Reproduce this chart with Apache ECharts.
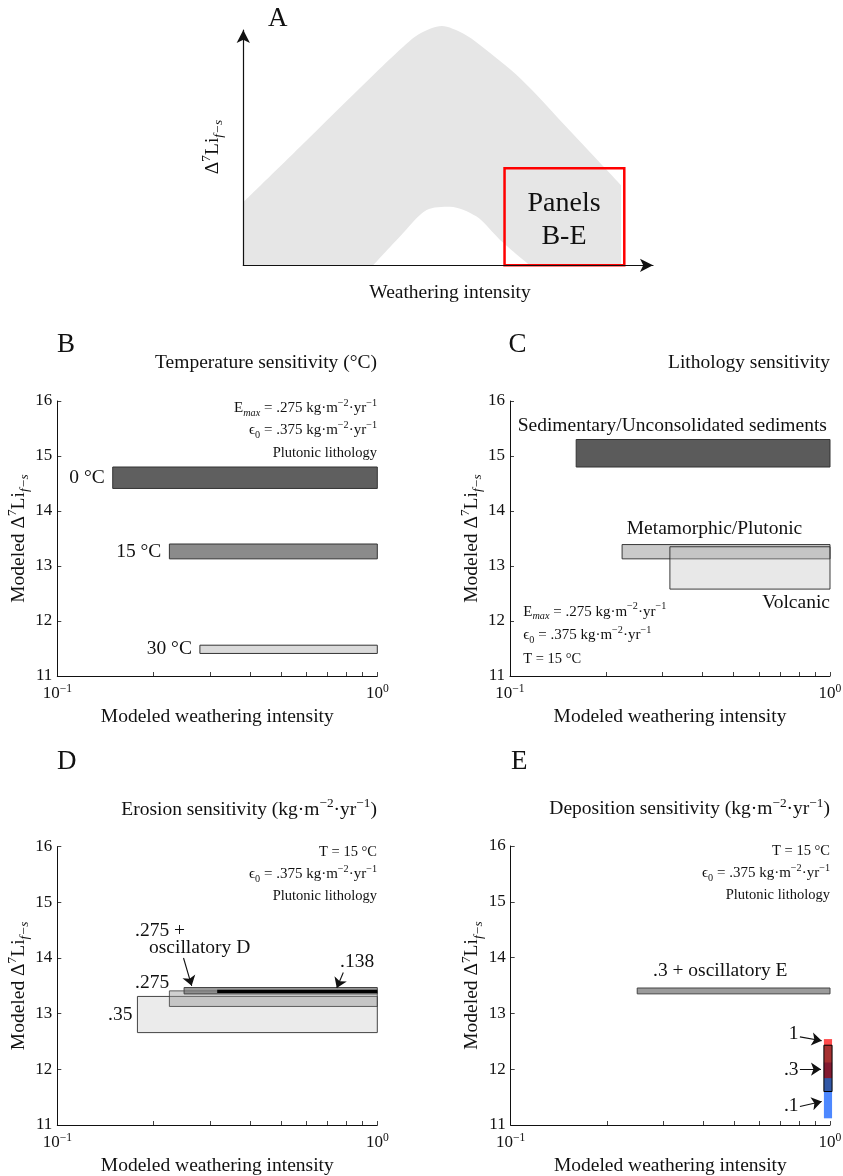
<!DOCTYPE html>
<html>
<head>
<meta charset="utf-8">
<script src="https://cdn.jsdelivr.net/npm/echarts@6/dist/echarts.min.js"></script>
<style>
  html, body { margin: 0; padding: 0; background: #fff; }
  #chart { width: 843px; height: 1176px; }
</style>
</head>
<body>
<div id="chart"></div>
<script>
// ---- A: schematic band (arbitrary 0..100 units)
const aOuterX = [0, 13.8, 30.9, 39.0, 43.1, 48.4, 53.6, 57.7, 67.5, 79.7, 92.1];
const aOuterY = [26.8, 50.3, 79.5, 92.9, 98.5, 101.7, 98.5, 93.6, 79.5, 57.1, 34.1];
const aInnerX = [31.7, 38.2, 44.7, 50.4, 56.9, 62.6, 69.9];
const aInnerY = [0, 12.2, 23.5, 24.9, 20.7, 10.8, 0];
const aBox = [63.7, 92.9, 0, 41.2]; // x0, x1, y0, y1

// ---- shared axes
const xMajor = [0.1, 1];
const xMinor = [0.1, 0.2, 0.3, 0.4, 0.5, 0.6, 0.7, 0.8, 0.9, 1];
const yMin = 11, yMax = 16, yStep = 1;

// ---- B: temperature
const tempNames = ['0 °C', '15 °C', '30 °C'];
const tempXMin = [0.149, 0.224, 0.279];
const tempXMax = [1, 1, 1];
const tempYLow = [14.41, 13.13, 11.41];
const tempYHigh = [14.80, 13.40, 11.56];

// ---- C: lithology
const lithNames = ['Sedimentary/Unconsolidated sediments', 'Metamorphic/Plutonic', 'Volcanic'];
const lithXMin = [0.161, 0.224, 0.316];
const lithXMax = [1, 1, 1];
const lithYLow = [14.80, 13.13, 12.58];
const lithYHigh = [15.30, 13.39, 13.35];

// ---- D: erosion
const erosNames = ['.35', '.275', '.275 + oscillatory D', '.138'];
const erosXMin = [0.178, 0.224, 0.249, 0.316];
const erosXMax = [1, 1, 1, 1];
const erosYLow = [12.66, 13.13, 13.355, 13.37];
const erosYHigh = [13.31, 13.41, 13.47, 13.43];
const erosArrowFrom = [[0.248, 14.0], [0.783, 13.74]];
const erosArrowTo = [[0.263, 13.50], [0.747, 13.46]];

// ---- E: deposition
const depoNames = ['.3 + oscillatory E', '.1', '1', '.3'];
const depoXMin = [0.249, 0.957, 0.957, 0.957];
const depoXMax = [1, 1.015, 1.015, 1.015];
const depoYLow = [13.35, 11.12, 11.84, 11.60];
const depoYHigh = [13.455, 12.12, 12.54, 12.43];
const depoArrowFrom = [[0.805, 12.58], [0.805, 12.0], [0.805, 11.33]];
const depoArrowTo = [[0.942, 12.51], [0.937, 12.0], [0.942, 11.42]];

const FONT = 'Liberation Serif';
const INK = '#111';

function rich(size) {
  const small = Math.round(size * 0.68 * 10) / 10;
  const base = { fontFamily: FONT, color: INK, fill: INK };
  return {
    n: Object.assign({}, base, { fontSize: size, lineHeight: Math.round(size * 1.3), verticalAlign: 'middle' }),
    sup: Object.assign({}, base, { fontSize: small, lineHeight: Math.round(size * 0.6), verticalAlign: 'top' }),
    sub: Object.assign({}, base, { fontSize: small, lineHeight: Math.round(size * 0.6), verticalAlign: 'bottom' }),
    subi: Object.assign({}, base, { fontSize: small, fontStyle: 'italic', lineHeight: Math.round(size * 0.6), verticalAlign: 'bottom' }),
  };
}

// R('Li', ['sub', 'f−s']) -> '{n|Li}{sub|f−s}'
function R() {
  return Array.prototype.map.call(arguments, (p) =>
    typeof p === 'string' ? `{n|${p}}` : `{${p[0]}|${p[1]}}`).join('');
}

function txt(x, y, str, size, align, rot) {
  return {
    type: 'text', x, y, rotation: rot || 0, z: 100,
    style: {
      text: str, rich: rich(size), align: align || 'left', verticalAlign: 'middle',
      fontFamily: FONT, fontSize: size, fill: INK,
    },
  };
}

const unitStr = ['kg·m', ['sup', '−2'], '·yr', ['sup', '−1']];
const emaxStr = R.apply(null, ['E', ['subi', 'max'], ' = .275 '].concat(unitStr));
const eps0Str = R.apply(null, ['ϵ', ['sub', '0'], ' = .375 '].concat(unitStr));
const yName = R('Modeled Δ', ['sup', '7'], 'Li', ['subi', 'f−s']);

function boxData(xmin, xmax, ylo, yhi) {
  return xmin.map((v, i) => [v, xmax[i], ylo[i], yhi[i]]);
}

function boxRenderer(fills, strokes, labels, width) {
  return function (params, api) {
    const i = params.dataIndex;
    const a = api.coord([api.value(0), api.value(3)]);
    const b = api.coord([api.value(1), api.value(2)]);
    const children = [{
      type: 'rect',
      shape: { x: a[0], y: a[1], width: b[0] - a[0], height: b[1] - a[1] },
      style: { fill: fills[i], stroke: strokes[i], lineWidth: strokes[i] === 'none' ? 0 : (width || 1) },
    }];
    if (labels) {
      children.push({
        type: 'text', x: a[0] - 8, y: (a[1] + b[1]) / 2,
        style: { text: labels[i], align: 'right', verticalAlign: 'middle', fontFamily: FONT, fontSize: 19.5, fill: INK },
      });
    }
    return { type: 'group', children };
  };
}

function logX(gi) {
  return {
    gridIndex: gi, type: 'log', logBase: 10, min: 0.1, max: 1,
    name: 'Modeled weathering intensity', nameLocation: 'middle', nameGap: 31,
    nameTextStyle: { fontFamily: FONT, fontSize: 19.5, color: INK },
    axisLine: { lineStyle: { color: INK, width: 1 } },
    axisTick: { inside: true, length: 4, customValues: xMinor, lineStyle: { color: INK, width: 0.8 } },
    axisLabel: {
      customValues: xMajor, margin: 7,
      formatter: (v) => R('10', ['sup', Math.round(Math.log10(v)) < 0 ? '−1' : '0']),
      rich: rich(17),
    },
    splitLine: { show: false },
  };
}

function valY(gi) {
  return {
    gridIndex: gi, type: 'value', min: yMin, max: yMax, interval: yStep,
    name: yName, nameLocation: 'middle', nameRotate: 90, nameGap: 20,
    nameTextStyle: { rich: rich(19.5) },
    axisLine: { show: true, lineStyle: { color: INK, width: 1 } },
    axisTick: { show: true, inside: true, length: 4, lineStyle: { color: INK, width: 0.8 } },
    axisLabel: { margin: 5, fontFamily: FONT, fontSize: 17, color: INK },
    splitLine: { show: false },
  };
}

function arrows(gi, from, to) {
  return {
    type: 'lines', coordinateSystem: 'cartesian2d', xAxisIndex: gi, yAxisIndex: gi,
    symbol: ['none', 'arrow'], symbolSize: 10, silent: true, z: 5,
    lineStyle: { color: INK, width: 1.1, opacity: 1, curveness: 0 },
    data: from.map((f, i) => ({ coords: [f, to[i]] })),
  };
}

const chart = echarts.init(document.getElementById('chart'), null, { renderer: 'canvas' });

chart.setOption({
  backgroundColor: '#fff',
  animation: false,
  grid: [
    { left: 243.3, top: 30, width: 409.7, height: 235.3, outerBoundsMode: 'none' },
    { left: 57.3, top: 401, width: 320, height: 275, outerBoundsMode: 'none' },
    { left: 510, top: 401, width: 320, height: 275, outerBoundsMode: 'none' },
    { left: 57.3, top: 846.7, width: 320, height: 278.3, outerBoundsMode: 'none' },
    { left: 510.7, top: 846, width: 319.3, height: 279, outerBoundsMode: 'none' },
  ],
  xAxis: [
    {
      gridIndex: 0, type: 'value', min: 0, max: 99.9, z: 10,
      axisLine: { symbol: ['none', 'arrow'], symbolSize: [10, 13], lineStyle: { color: '#111', width: 1.2 } },
      axisTick: { show: false }, axisLabel: { show: false }, splitLine: { show: false },
    },
    logX(1), logX(2), logX(3), logX(4),
  ],
  yAxis: [
    {
      gridIndex: 0, type: 'value', min: 0, max: 100, z: 10,
      axisLine: { show: true, symbol: ['none', 'arrow'], symbolSize: [10, 13], lineStyle: { color: '#111', width: 1.2 } },
      axisTick: { show: false }, axisLabel: { show: false }, splitLine: { show: false },
    },
    valY(1), valY(2), valY(3), valY(4),
  ],
  series: [
    // A
    {
      type: 'line', xAxisIndex: 0, yAxisIndex: 0, smooth: 0.3, symbol: 'none', clip: false, z: 1,
      lineStyle: { width: 0 }, areaStyle: { color: '#e6e6e6', opacity: 1 },
      data: aOuterX.map((x, i) => [x, aOuterY[i]]),
    },
    {
      type: 'line', xAxisIndex: 0, yAxisIndex: 0, smooth: 0.3, symbol: 'none', clip: false, z: 2,
      lineStyle: { width: 0 }, areaStyle: { color: '#ffffff', opacity: 1 },
      data: aInnerX.map((x, i) => [x, aInnerY[i]]),
    },
    {
      type: 'custom', xAxisIndex: 0, yAxisIndex: 0, z: 3, silent: true,
      encode: { x: [0, 1], y: [2, 3] },
      renderItem: boxRenderer(['none'], ['#ff0000'], null, 2.5),
      data: [aBox],
    },
    // B
    {
      type: 'custom', xAxisIndex: 1, yAxisIndex: 1, silent: true, encode: { x: [0, 1], y: [2, 3] },
      renderItem: boxRenderer(['#5f5f5f', '#8b8b8b', '#dadada'], ['#333', '#333', '#333'], tempNames),
      data: boxData(tempXMin, tempXMax, tempYLow, tempYHigh),
    },
    // C
    {
      type: 'custom', xAxisIndex: 2, yAxisIndex: 2, silent: true, encode: { x: [0, 1], y: [2, 3] },
      renderItem: boxRenderer(['#5b5b5b', 'rgba(150,150,150,0.5)', 'rgba(190,190,190,0.35)'],
        ['#333', 'rgba(40,40,40,0.9)', 'rgba(40,40,40,0.9)']),
      data: boxData(lithXMin, lithXMax, lithYLow, lithYHigh),
    },
    // D
    {
      type: 'custom', xAxisIndex: 3, yAxisIndex: 3, silent: true, encode: { x: [0, 1], y: [2, 3] },
      renderItem: boxRenderer(['#ebebeb', 'rgba(150,150,150,0.45)', 'rgba(120,120,120,0.75)', '#000'],
        ['#444', 'rgba(60,60,60,0.8)', '#444', 'none']),
      data: boxData(erosXMin, erosXMax, erosYLow, erosYHigh),
    },
    arrows(3, erosArrowFrom, erosArrowTo),
    // E
    {
      type: 'custom', xAxisIndex: 4, yAxisIndex: 4, silent: true, encode: { x: [0, 1], y: [2, 3] },
      renderItem: boxRenderer(['#9b9b9b', '#4d88ff', 'rgba(255,0,0,0.7)', 'rgba(0,0,0,0.35)'],
        ['#444', 'none', 'none', '#000']),
      data: boxData(depoXMin, depoXMax, depoYLow, depoYHigh),
    },
    arrows(4, depoArrowFrom, depoArrowTo),
  ],
  graphic: [
    // A
    txt(268, 18.5, R('A'), 27),
    txt(213, 147, R('Δ', ['sup', '7'], 'Li', ['subi', 'f−s']), 19.5, 'center', Math.PI / 2),
    txt(450, 293.3, R('Weathering intensity'), 19.5, 'center'),
    txt(564, 204, R('Panels'), 28, 'center'),
    txt(564, 237, R('B-E'), 28, 'center'),
    // B
    txt(57, 345, R('B'), 27),
    txt(377, 363, R('Temperature sensitivity (°C)'), 19.5, 'right'),
    txt(377, 408.3, emaxStr, 15, 'right'),
    txt(377, 430, eps0Str, 15, 'right'),
    txt(377, 452.7, R('Plutonic lithology'), 14.5, 'right'),
    // C
    txt(508.5, 345, R('C'), 27),
    txt(830, 363, R('Lithology sensitivity'), 19.5, 'right'),
    txt(523.3, 611.7, emaxStr, 15),
    txt(523.3, 635, eps0Str, 15),
    txt(523.3, 659.3, R('T = 15 °C'), 14.5),
    txt(672.3, 426, R(lithNames[0]), 19.5, 'center'),
    txt(714.5, 529, R(lithNames[1]), 19.5, 'center'),
    txt(830, 602.7, R(lithNames[2]), 19.5, 'right'),
    // D
    txt(57, 762, R('D'), 27),
    txt(377, 810, R('Erosion sensitivity (', ...unitStr, ')'), 19.5, 'right'),
    txt(377, 851.7, R('T = 15 °C'), 14.5, 'right'),
    txt(377, 874, eps0Str, 15, 'right'),
    txt(377, 896, R('Plutonic lithology'), 14.5, 'right'),
    txt(135, 931, R('.275 +'), 19.5),
    txt(149, 948.3, R('oscillatory D'), 19.5),
    txt(340, 961.7, R(erosNames[3]), 19.5),
    txt(135, 983, R(erosNames[1]), 19.5),
    txt(108, 1015, R(erosNames[0]), 19.5),
    // E
    txt(511, 762, R('E'), 27),
    txt(830, 809.3, R('Deposition sensitivity (', ...unitStr, ')'), 19.5, 'right'),
    txt(830, 851, R('T = 15 °C'), 14.5, 'right'),
    txt(830, 873.3, eps0Str, 15, 'right'),
    txt(830, 895.3, R('Plutonic lithology'), 14.5, 'right'),
    txt(653, 970.7, R(depoNames[0]), 19.5),
    txt(798.5, 1034, R(depoNames[2]), 19.5, 'right'),
    txt(798.5, 1070, R(depoNames[3]), 19.5, 'right'),
    txt(798.5, 1106, R(depoNames[1]), 19.5, 'right'),
  ],
});
</script>
</body>
</html>
